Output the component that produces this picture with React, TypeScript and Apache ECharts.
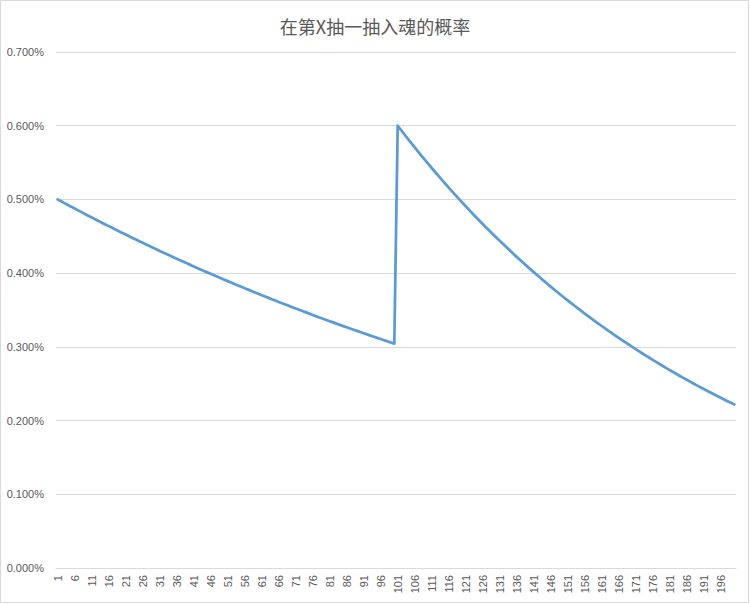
import React, { useEffect, useRef } from "react";
import * as echarts from "echarts";

const titleText = "在第X抽一抽入魂的概率";

// draw index 1..200
const categories: string[] = Array.from({ length: 200 }, (_, i) => String(i + 1));

// probability (%) for draws 1..100
const firstHalf: number[] = [
  0.50000, 0.49750, 0.49501, 0.49254, 0.49007, 0.48762, 0.48519, 0.48276, 0.48035, 0.47795,
  0.47556, 0.47318, 0.47081, 0.46846, 0.46612, 0.46379, 0.46147, 0.45916, 0.45687, 0.45458,
  0.45231, 0.45005, 0.44780, 0.44556, 0.44333, 0.44112, 0.43891, 0.43672, 0.43453, 0.43236,
  0.43020, 0.42804, 0.42590, 0.42377, 0.42166, 0.41955, 0.41745, 0.41536, 0.41329, 0.41122,
  0.40916, 0.40712, 0.40508, 0.40306, 0.40104, 0.39904, 0.39704, 0.39506, 0.39308, 0.39112,
  0.38916, 0.38721, 0.38528, 0.38335, 0.38144, 0.37953, 0.37763, 0.37574, 0.37387, 0.37200,
  0.37014, 0.36829, 0.36644, 0.36461, 0.36279, 0.36098, 0.35917, 0.35738, 0.35559, 0.35381,
  0.35204, 0.35028, 0.34853, 0.34679, 0.34505, 0.34333, 0.34161, 0.33990, 0.33820, 0.33651,
  0.33483, 0.33316, 0.33149, 0.32983, 0.32818, 0.32654, 0.32491, 0.32329, 0.32167, 0.32006,
  0.31846, 0.31687, 0.31528, 0.31371, 0.31214, 0.31058, 0.30902, 0.30748, 0.30594, 0.30441,
];

// probability (%) for draws 101..200
const secondHalf: number[] = [
  0.60000, 0.59400, 0.58806, 0.58218, 0.57636, 0.57059, 0.56489, 0.55924, 0.55365, 0.54811,
  0.54263, 0.53720, 0.53183, 0.52651, 0.52125, 0.51603, 0.51087, 0.50576, 0.50071, 0.49570,
  0.49074, 0.48584, 0.48098, 0.47617, 0.47141, 0.46669, 0.46202, 0.45740, 0.45283, 0.44830,
  0.44382, 0.43938, 0.43499, 0.43064, 0.42633, 0.42207, 0.41785, 0.41367, 0.40953, 0.40544,
  0.40138, 0.39737, 0.39339, 0.38946, 0.38557, 0.38171, 0.37789, 0.37411, 0.37037, 0.36667,
  0.36300, 0.35937, 0.35578, 0.35222, 0.34870, 0.34521, 0.34176, 0.33834, 0.33496, 0.33161,
  0.32829, 0.32501, 0.32176, 0.31854, 0.31536, 0.31220, 0.30908, 0.30599, 0.30293, 0.29990,
  0.29690, 0.29393, 0.29099, 0.28808, 0.28520, 0.28235, 0.27953, 0.27673, 0.27396, 0.27122,
  0.26851, 0.26583, 0.26317, 0.26054, 0.25793, 0.25535, 0.25280, 0.25027, 0.24777, 0.24529,
  0.24284, 0.24041, 0.23801, 0.23563, 0.23327, 0.23094, 0.22863, 0.22634, 0.22408, 0.22184,
];

const values: number[] = [...firstHalf, ...secondHalf];

export default function App() {
  const ref = useRef<HTMLDivElement>(null);
  useEffect(() => {
    if (!ref.current) return;
    const chart = echarts.init(ref.current, undefined, { renderer: "svg" });
    chart.setOption({
      animation: false,
      backgroundColor: "#ffffff",
      title: {
        text: titleText,
        left: "center",
        top: 12,
        textStyle: {
          fontFamily: "Noto Sans CJK SC",
          fontSize: 18,
          fontWeight: "normal",
          color: "#595959",
        },
      },
      graphic: [
        {
          type: "rect",
          shape: { x: 0.5, y: 0.5, width: 748, height: 602 },
          style: { fill: "none", stroke: "#d9d9d9", lineWidth: 1 },
          silent: true,
        },
      ],
      grid: { left: 56, right: 14, top: 52, bottom: 36, containLabel: false },
      xAxis: {
        type: "category",
        data: categories,
        boundaryGap: true,
        axisTick: { show: false },
        axisLine: { lineStyle: { color: "#d9d9d9", width: 1 } },
        axisLabel: {
          interval: 4,
          rotate: 90,
          margin: 7,
          fontSize: 11,
          color: "#595959",
          fontFamily: "Liberation Sans",
        },
        splitLine: { show: false },
      },
      yAxis: {
        type: "value",
        min: 0,
        max: 0.7,
        interval: 0.1,
        axisLine: { show: false },
        axisTick: { show: false },
        axisLabel: {
          margin: 12,
          fontSize: 11,
          color: "#595959",
          fontFamily: "Liberation Sans",
          formatter: (v: number) => v.toFixed(3) + "%",
        },
        splitLine: { lineStyle: { color: "#d9d9d9", width: 1 } },
      },
      series: [
        {
          type: "line",
          data: values,
          symbol: "none",
          lineStyle: { color: "#5b9bd5", width: 2.75, cap: "round", join: "round" },
        },
      ],
    });
    return () => chart.dispose();
  }, []);
  return (
    <div
      ref={ref}
      style={{ position: "absolute", left: 0, top: 0, width: 750, height: 604 }}
    />
  );
}
